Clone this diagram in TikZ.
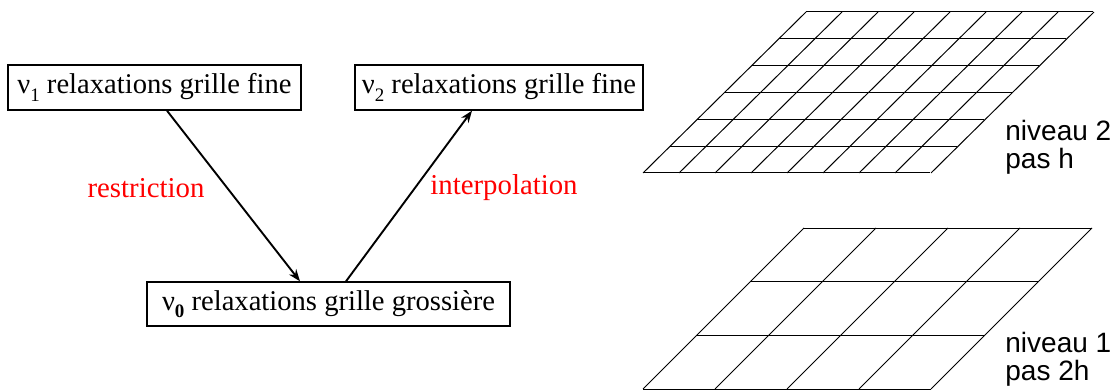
\documentclass[tikz,border=0pt]{standalone}
\usepackage{fontspec}
\setmainfont{Liberation Serif}
\newfontfamily\arialfont{Liberation Sans}
\usetikzlibrary{arrows.meta}
\newcommand{\nusub}[1]{ν\raisebox{-0.25em}{\fontsize{9.5}{9.5}\selectfont #1}}
\begin{document}
\begin{tikzpicture}[x=0.5pt,y=-0.5pt,
  box/.style={draw, line width=0.7pt, inner sep=0pt, font=\fontsize{14.3}{16}\selectfont, minimum height=22.5pt},
  lab/.style={text=red, font=\fontsize{14.4}{16}\selectfont, inner sep=0pt},
  conn/.style={line width=0.95pt, -{Stealth[length=6pt,width=4.5pt]}},
  gridline/.style={line width=0.5pt},
  lvl/.style={font=\arialfont\fontsize{14}{14}\selectfont, align=left, anchor=west, inner sep=0pt}]
\useasboundingbox (0,0) rectangle (1120,390);
% boxes
\node[box, minimum width=146.5pt] (b1) at (154.5,87.5) {\nusub{1} relaxations grille fine};
\node[box, minimum width=144pt] (b2) at (499,87.5) {\nusub{2} relaxations grille fine};
\node[box, minimum width=181.5pt, minimum height=22pt] (b3) at (328.5,304) {\nusub{\textbf{0}} relaxations grille grossière};
% connectors
\draw[conn] ([xshift=6.25pt]b1.south) -- ([xshift=-14.25pt]b3.north);
\draw[conn] ([xshift=8.75pt]b3.north) -- ([xshift=-13.5pt]b2.south);
% labels
\node[lab] (r) at (146,188) {restriction};
\node[lab] (ip) at (504,188) {interpolation};
% fine grid
\foreach \i in {0,...,6} \draw[gridline] ({806-\i*163/6},{12+\i*161/6}) -- ++(287,0);
\foreach \j in {0,...,8} \draw[gridline] ({643+\j*36},173) -- ({806+\j*36},12);
% coarse grid
\foreach \i in {0,...,3} \draw[gridline] ({804-\i*161/3},{228+\i*161/3}) -- ++(288,0);
\foreach \j in {0,...,4} \draw[gridline] ({643+\j*72},389) -- ({804+\j*72},228);
% level labels
\node[lvl] (n2) at (1005,147) {niveau 2\\pas h};
\node[lvl] (n1) at (1005,359) {niveau 1\\pas 2h};
\end{tikzpicture}
\end{document}
